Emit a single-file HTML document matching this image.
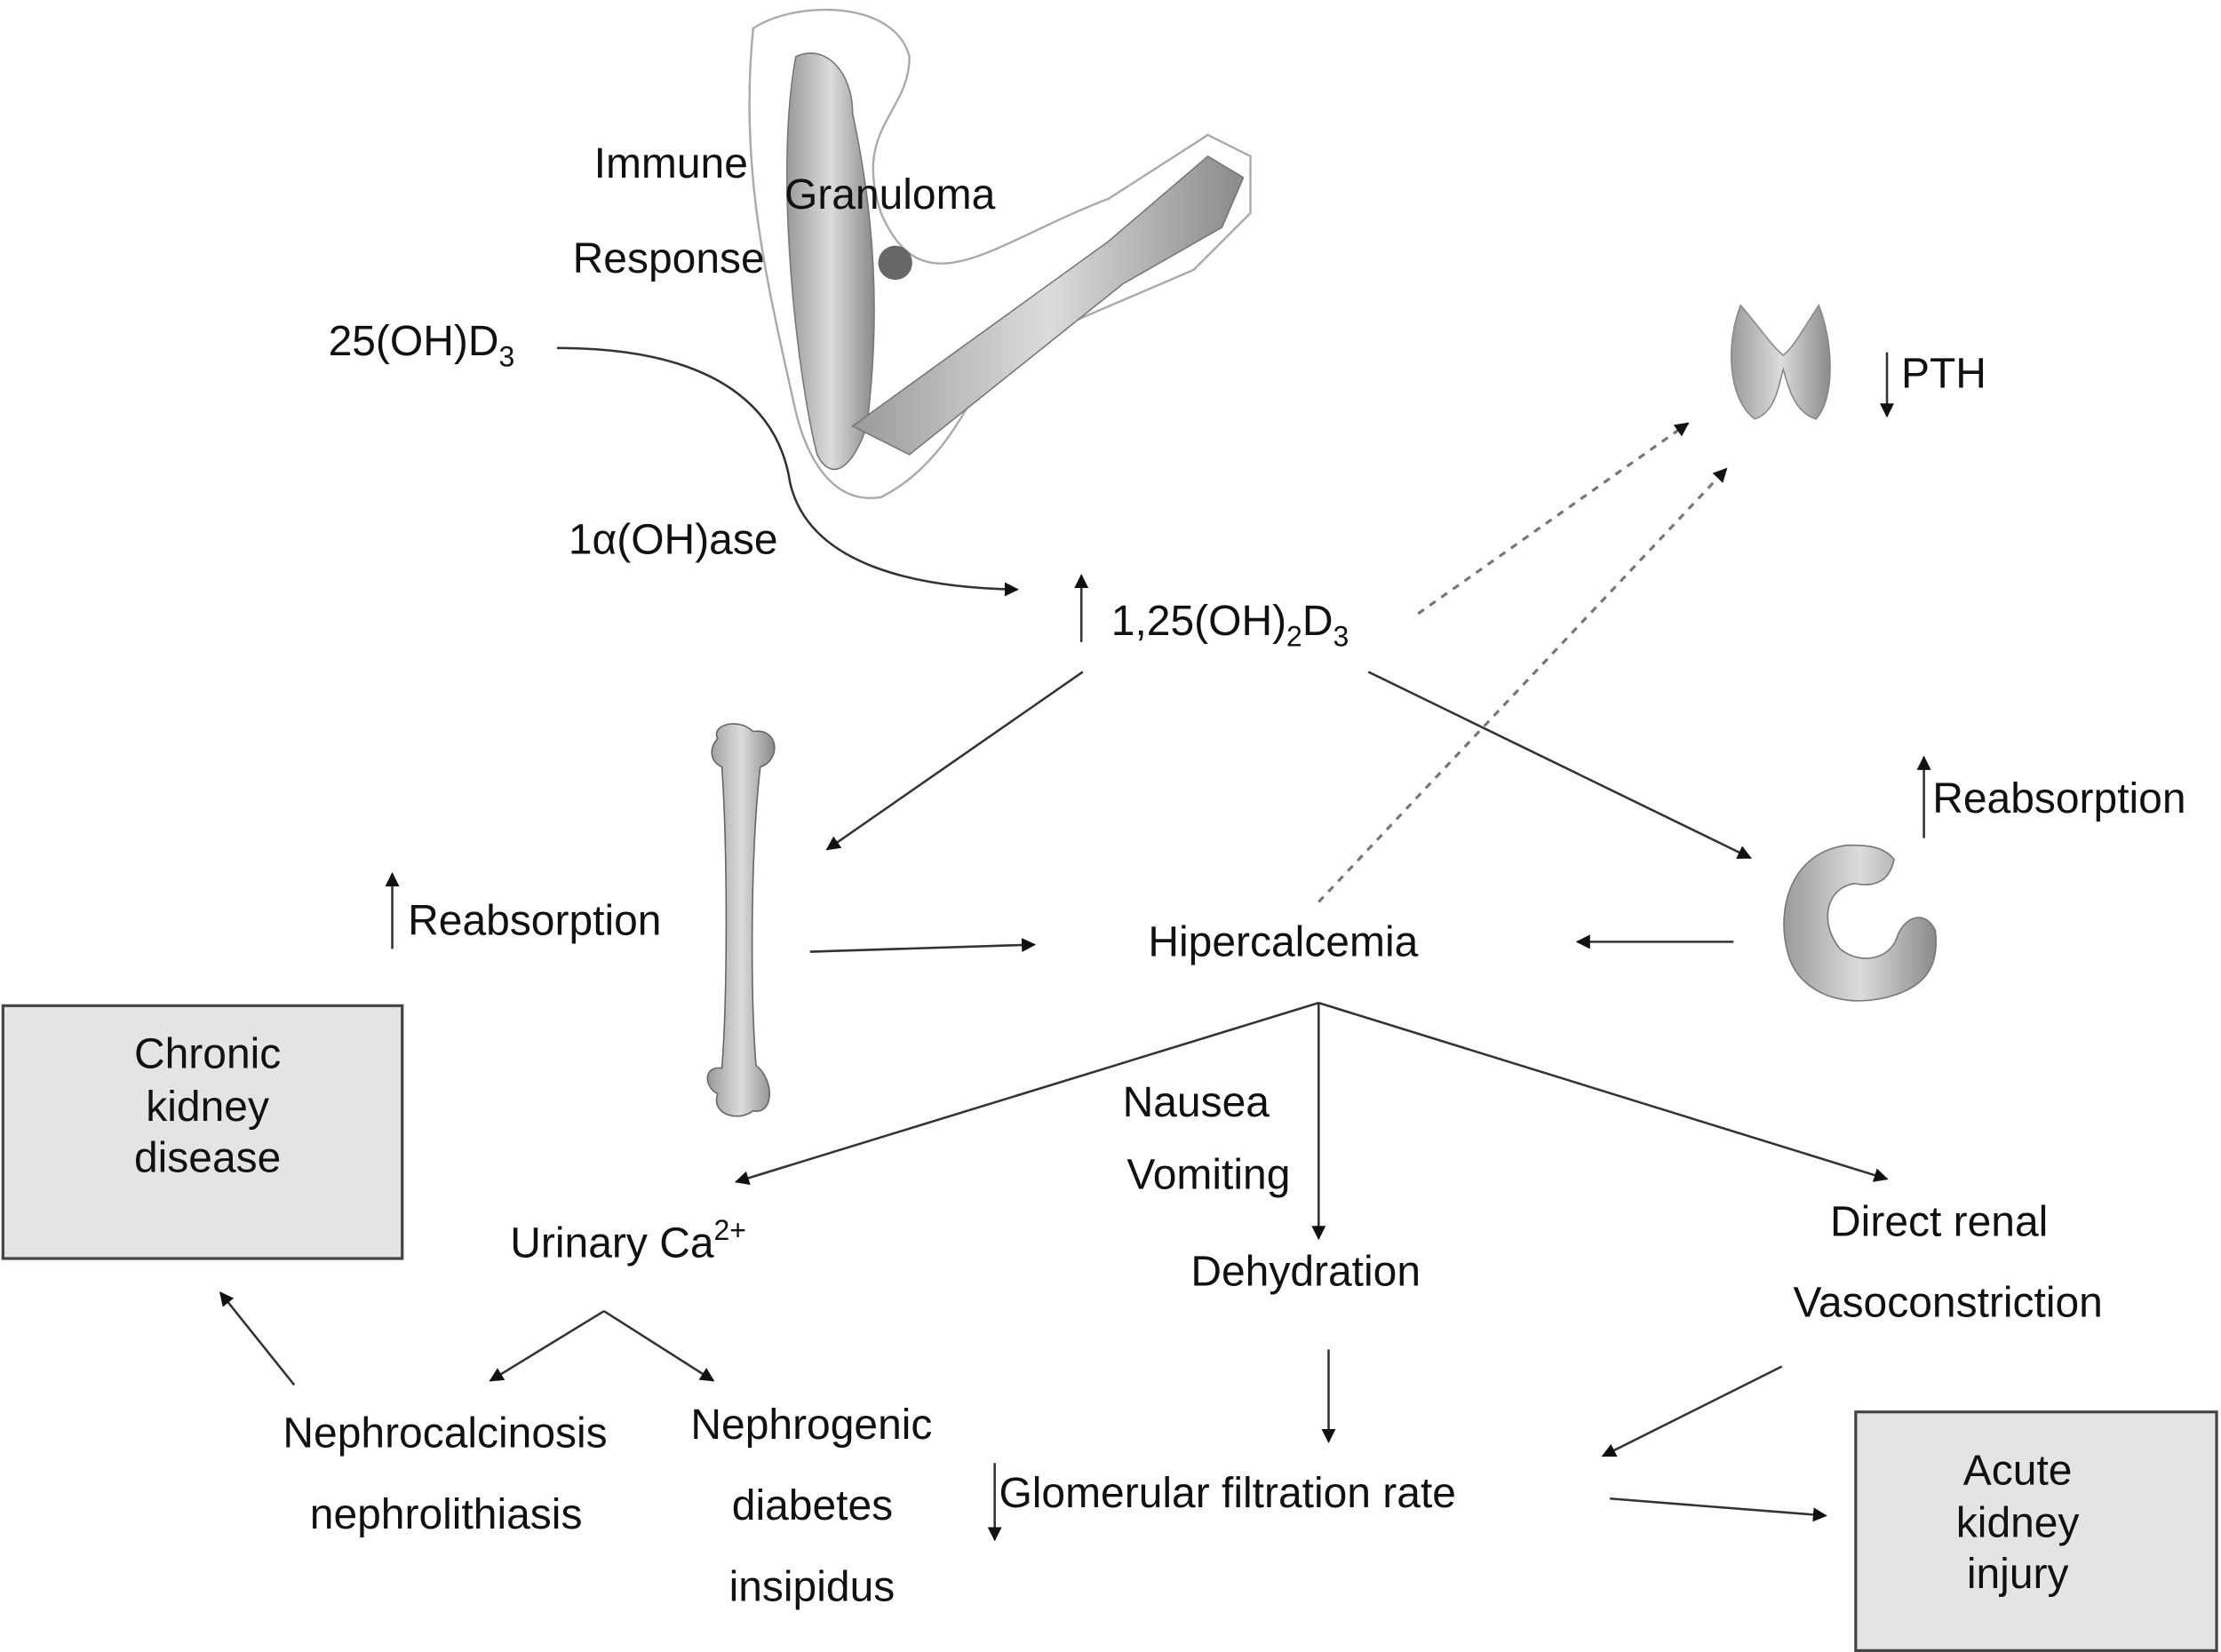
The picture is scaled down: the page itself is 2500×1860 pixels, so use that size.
<!DOCTYPE html>
<html><head><meta charset="utf-8"><style>
html,body{margin:0;padding:0;background:#fff;}
svg{display:block;}
text{font-family:"Liberation Sans",sans-serif;font-size:30px;fill:#111;}
</style></head><body>
<svg width="2500" height="1860" viewBox="0 0 1563 1163" xmlns="http://www.w3.org/2000/svg">
<defs>
<marker id="a" markerWidth="10" markerHeight="10" refX="9" refY="5" orient="auto" markerUnits="userSpaceOnUse" viewBox="0 0 10 10">
<path d="M0,0 L10,5 L0,10 z" fill="#111"/></marker>
<linearGradient id="g" x1="0" x2="1"><stop offset="0" stop-color="#9a9a9a"/><stop offset="0.5" stop-color="#dcdcdc"/><stop offset="1" stop-color="#8a8a8a"/></linearGradient>
</defs>

<path d="M530,20 C560,0 630,0 640,40 C640,80 600,90 620,150 C650,220 700,170 780,140 L850,95 L880,110 L880,150 L840,190 L700,250 C680,290 660,330 620,350 C590,355 570,330 560,290 C540,200 520,120 530,20 z" fill="none" stroke="#aaa" stroke-width="1.5"/>
<path d="M560,40 C580,30 600,50 600,80 C615,150 620,220 610,300 C600,330 585,340 575,320 C560,260 545,120 560,40 z" fill="url(#g)" stroke="#777"/>
<path d="M600,300 L780,170 L850,110 L875,125 L860,160 L790,200 L640,320 z" fill="url(#g)" stroke="#777"/>
<circle cx="630" cy="185" r="12" fill="#666"/>

<path d="M1225,215 C1215,240 1215,280 1235,295 C1250,290 1252,270 1255,260 C1258,270 1262,290 1278,295 C1292,280 1290,240 1280,215 C1270,230 1262,245 1255,250 C1248,245 1238,230 1225,215 z" fill="url(#g)" stroke="#888"/>

<path d="M505,520 C500,510 520,505 530,515 C548,512 550,535 535,540 C528,600 528,700 532,750 C545,760 545,785 530,782 C520,790 500,785 505,770 C495,765 495,750 508,752 C512,700 512,600 508,540 C498,535 500,525 505,520 z" fill="url(#g)" stroke="#666"/>

<path d="M1300,595 C1260,600 1250,640 1258,670 C1265,700 1300,712 1335,700 C1355,693 1365,680 1362,655 C1355,640 1340,645 1335,660 C1330,675 1310,680 1295,668 C1280,650 1285,625 1305,622 C1320,625 1330,620 1333,605 C1325,595 1312,595 1300,595 z" fill="url(#g)" stroke="#777"/>

<text x="418" y="125">Immune</text>
<text x="552" y="147">Granuloma</text>
<text x="403" y="192">Response</text>
<text x="231" y="250">25(OH)D<tspan font-size="20" dy="8">3</tspan></text>
<text x="400" y="390">1α(OH)ase</text>
<text x="782" y="447">1,25(OH)<tspan font-size="20" dy="8">2</tspan><tspan dy="-8">D</tspan><tspan font-size="20" dy="8">3</tspan></text>
<text x="1338" y="273">PTH</text>
<text x="1360" y="572">Reabsorption</text>
<text x="287" y="658">Reabsorption</text>
<text x="808" y="673">Hipercalcemia</text>
<text x="790" y="786">Nausea</text>
<text x="793" y="837">Vomiting</text>
<text x="359" y="885">Urinary Ca<tspan font-size="20" dy="-12">2+</tspan></text>
<text x="838" y="905">Dehydration</text>
<text x="1288" y="870">Direct renal</text>
<text x="1262" y="927">Vasoconstriction</text>
<text x="199" y="1019">Nephrocalcinosis</text>
<text x="218" y="1076">nephrolithiasis</text>
<text x="486" y="1013">Nephrogenic</text>
<text x="515" y="1070">diabetes</text>
<text x="513" y="1127">insipidus</text>
<text x="703" y="1061">Glomerular filtration rate</text>

<rect x="2" y="708" width="281" height="178" fill="#e4e4e4" stroke="#444" stroke-width="2"/>
<text x="146" y="752" text-anchor="middle">Chronic</text>
<text x="146" y="789" text-anchor="middle">kidney</text>
<text x="146" y="825" text-anchor="middle">disease</text>
<rect x="1306" y="994" width="254" height="168" fill="#e4e4e4" stroke="#444" stroke-width="2"/>
<text x="1420" y="1045" text-anchor="middle">Acute</text>
<text x="1420" y="1082" text-anchor="middle">kidney</text>
<text x="1420" y="1118" text-anchor="middle">injury</text>

<g stroke="#333" stroke-width="1.6" fill="none" marker-end="url(#a)">
<path d="M392,245 C520,245 550,300 556,340 C570,400 650,414 716,415"/>
<line x1="761" y1="452" x2="761" y2="405"/>
<line x1="1328" y1="248" x2="1328" y2="293"/>
<line x1="1354" y1="590" x2="1354" y2="533"/>
<line x1="276" y1="668" x2="276" y2="615"/>
<line x1="700" y1="1030" x2="700" y2="1084"/>
<line x1="762" y1="473" x2="582" y2="598"/>
<line x1="963" y1="473" x2="1232" y2="604"/>
<line x1="570" y1="670" x2="728" y2="665"/>
<line x1="1220" y1="663" x2="1110" y2="663"/>
<line x1="928" y1="706" x2="518" y2="832"/>
<line x1="928" y1="706" x2="928" y2="872"/>
<line x1="928" y1="706" x2="1328" y2="830"/>
<line x1="425" y1="923" x2="345" y2="972"/>
<line x1="425" y1="923" x2="502" y2="972"/>
<line x1="207" y1="975" x2="155" y2="910"/>
<line x1="935" y1="950" x2="935" y2="1015"/>
<line x1="1254" y1="962" x2="1128" y2="1025"/>
<line x1="1133" y1="1055" x2="1285" y2="1067"/>
</g>
<g stroke="#777" stroke-width="2" fill="none" stroke-dasharray="5,5" marker-end="url(#a)">
<line x1="998" y1="432" x2="1188" y2="298"/>
<line x1="928" y1="635" x2="1215" y2="330"/>
</g>
</svg>
</body></html>
